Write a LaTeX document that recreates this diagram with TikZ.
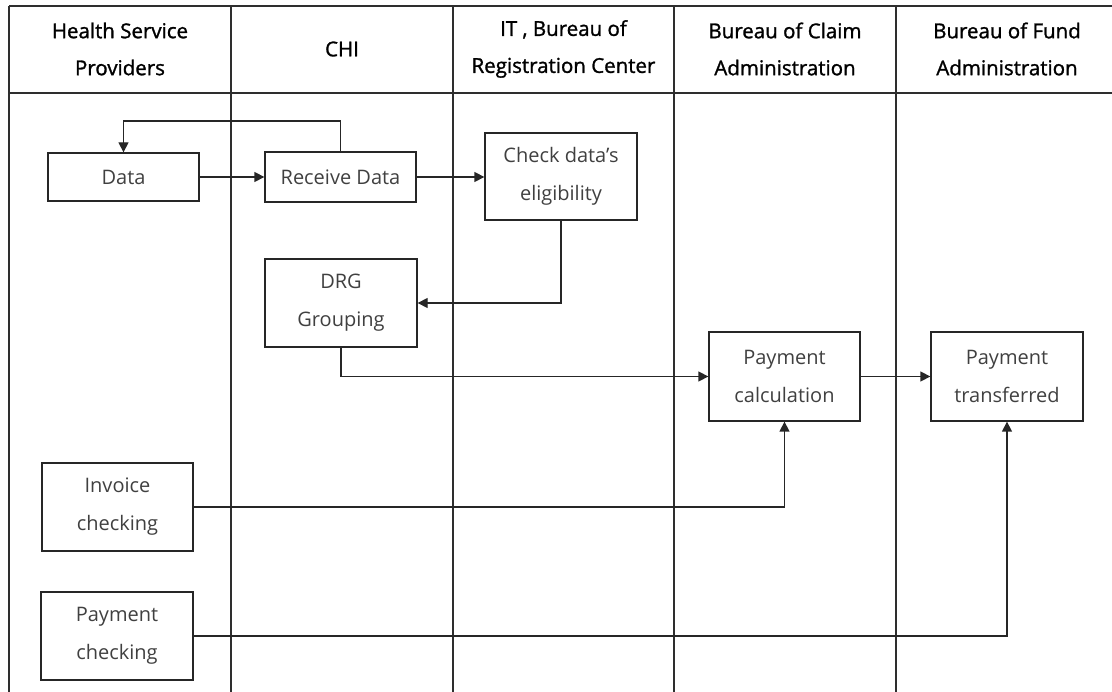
\documentclass[tikz,border=0pt]{standalone}
\usepackage{fontspec}
\setmainfont{Open Sans}
\newfontfamily\headfont[FakeBold=1.3]{Open Sans}
\usetikzlibrary{arrows.meta}
\definecolor{txtgray}{HTML}{404040}
\definecolor{gridgray}{HTML}{2E2E2E}
\begin{document}
\begin{tikzpicture}[x=1pt,y=-1pt,
  lane/.style={draw=gridgray,line width=1.8pt},
  head/.style={align=center,text=black,font=\headfont\fontsize{20.5}{37}\selectfont},
  box/.style={draw=black!85,line width=1.3pt,align=center,inner sep=0pt,
    text=txtgray,font=\fontsize{20}{38}\selectfont},
  arr/.style={draw=black!85,line width=1.3pt,-{Triangle[length=10pt,width=10pt]}},
  link/.style={draw=black!85,line width=1.3pt}]
\useasboundingbox (0,0) rectangle (1112,692);
% lane grid
\draw[lane] (9,6) -- (1112,6);
\draw[lane] (9,93) -- (1112,93);
\foreach \lx in {9,231,453,674,896}
  \draw[lane] (\lx,6) -- (\lx,692);
% lane headers
\node[head] (h1) at (120,49) {Health Service\\Providers};
\node[head] (h2) at (342,49) {CHI};
\node[head] (h3) at (563.5,49) {IT , Bureau of\\Registration Center};
\node[head] (h4) at (785,49) {Bureau of Claim\\Administration};
\node[head] (h5) at (1007,49) {Bureau of Fund\\Administration};
% process boxes
\node[box,minimum width=151pt,minimum height=48pt] (data) at (123.5,177) {Data};
\node[box,minimum width=151pt,minimum height=50pt] (recv) at (340.5,177) {Receive Data};
\node[box,minimum width=152pt,minimum height=87pt] (check) at (561,176.5) {Check data’s\\eligibility};
\node[box,minimum width=152pt,minimum height=88pt] (drg) at (341,303) {DRG\\Grouping};
\node[box,minimum width=151pt,minimum height=89pt] (calc) at (784.5,376.5) {Payment\\calculation};
\node[box,minimum width=152pt,minimum height=89pt] (trans) at (1007,376.5) {Payment\\transferred};
\node[box,minimum width=151pt,minimum height=88pt] (inv) at (117.5,507) {Invoice\\checking};
\node[box,minimum width=152pt,minimum height=88pt] (pchk) at (117,636) {Payment\\checking};
% connectors
\coordinate (loop) at (124,121);
\draw[arr] (data.east) -- (recv.west);
\draw[arr] (recv.north) -- (recv.north |- loop) -| (data.north);
\draw[arr] (recv.east) -- (recv.east -| check.west);
\draw[arr] (check.south) |- (drg.east);
\draw[arr] (drg.south) |- (calc.west);
\draw[arr] (calc.east) -- (trans.west);
\draw[arr] (inv.east) -| (calc.south);
\draw[arr] (pchk.east) -| (trans.south);
\end{tikzpicture}
\end{document}
